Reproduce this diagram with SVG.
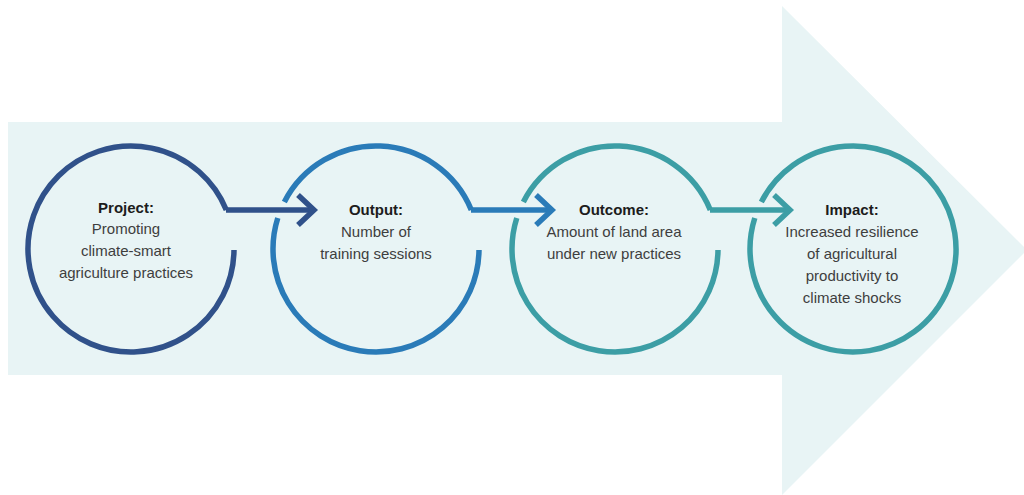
<svg xmlns="http://www.w3.org/2000/svg" width="1024" height="495" viewBox="0 0 1024 495">
<style>
.ring{fill:none;stroke-width:5.5;stroke-linecap:butt}
.con{fill:none;stroke-width:5.5;stroke-linecap:butt;stroke-linejoin:miter}
.navy{stroke:#30518a}
.blue{stroke:#2a7bb8}
.teal{stroke:#3c9ea5}
text{font-family:"Liberation Sans",Arial,sans-serif;font-size:15px;text-anchor:middle}
.t{font-weight:bold;fill:#1c1c1c}
.b{fill:#3e3e3e}
</style>
<rect width="1024" height="495" fill="#ffffff"/>
<g id="big-arrow">
<path d="M8 122 H782 V6 L1027 250 L782 495 V375 H8 Z" fill="#e8f4f5"/>
</g>
<g id="node-project">
<path class="ring navy" d="M234 250 A103 103 0 1 1 226.33 210"/>
<text x="126" y="213" class="t">Project:</text>
<text x="126" y="234" class="b">Promoting</text>
<text x="126" y="256" class="b">climate-smart</text>
<text x="126" y="278" class="b">agriculture practices</text>
</g>
<g id="node-output">
<path class="ring blue" d="M479 250 A103 103 0 1 1 277.78 218"/>
<path class="ring blue" d="M284.35 202 A103 103 0 0 1 471.33 210"/>
<text x="376" y="215" class="t">Output:</text>
<text x="376" y="237" class="b">Number of</text>
<text x="376" y="259" class="b">training sessions</text>
</g>
<g id="node-outcome">
<path class="ring teal" d="M718 250 A103 103 0 1 1 516.78 218"/>
<path class="ring teal" d="M523.35 202 A103 103 0 0 1 710.33 210"/>
<text x="614" y="215" class="t">Outcome:</text>
<text x="614" y="237" class="b">Amount of land area</text>
<text x="614" y="259" class="b">under new practices</text>
</g>
<g id="node-impact">
<path class="ring teal" d="M761.35 202 A103 103 0 1 1 754.78 218"/>
<text x="852" y="215" class="t">Impact:</text>
<text x="852" y="237" class="b">Increased resilience</text>
<text x="852" y="259" class="b">of agricultural</text>
<text x="852" y="281" class="b">productivity to</text>
<text x="852" y="303" class="b">climate shocks</text>
</g>
<g id="connectors">
<path class="con navy" d="M226 210 H313"/>
<path class="con navy" d="M298 195 L314 210 L298 225"/>
<path class="con blue" d="M471 210 H550"/>
<path class="con blue" d="M536 195 L552 210 L536 225"/>
<path class="con teal" d="M710 210 H788"/>
<path class="con teal" d="M774 195 L790 210 L774 225"/>
</g>
</svg>
